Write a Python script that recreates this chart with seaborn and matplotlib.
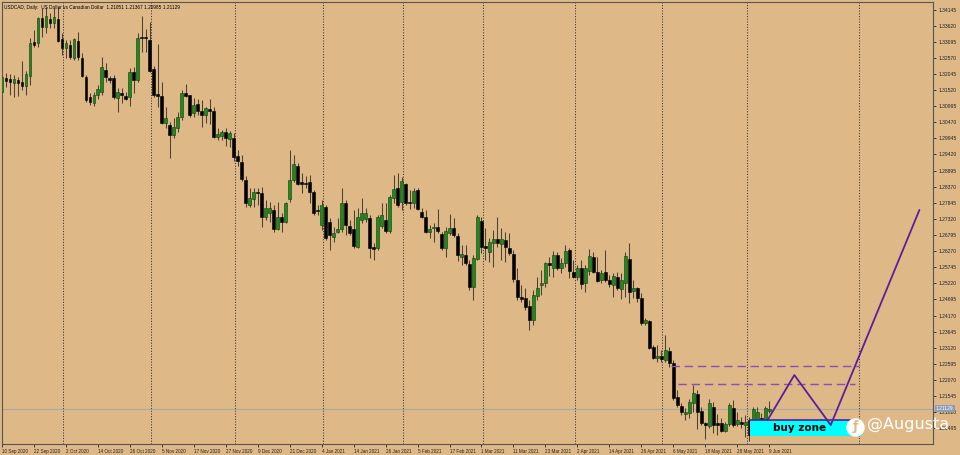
import numpy as np
import pandas as pd
import matplotlib
matplotlib.use("Agg")
import matplotlib.pyplot as plt
import matplotlib.transforms as mtrans
import seaborn as sns

# USDCAD daily candles, 10 Sep 2020 .. 9 Jun 2021 (one row per trading day)
opens = [
    1.3146, 1.3191, 1.3188, 1.3175, 1.3185, 1.3178, 1.3165, 1.3198, 1.3309, 1.3305,
    1.3387, 1.3357, 1.3384, 1.3371, 1.3384, 1.3318, 1.3289, 1.3299, 1.3256, 1.3312,
    1.3256, 1.3194, 1.3129, 1.3110, 1.3136, 1.3146, 1.3217, 1.3191, 1.3191, 1.3126,
    1.3142, 1.3133, 1.3129, 1.3211, 1.3185, 1.3325, 1.3325, 1.3315, 1.3221, 1.3139,
    1.3133, 1.3045, 1.3038, 1.3006, 1.3028, 1.3064, 1.3142, 1.3136, 1.3077, 1.3106,
    1.3084, 1.3071, 1.3090, 1.3084, 1.2999, 1.3002, 1.3015, 1.2993, 1.2996, 1.2937,
    1.2917, 1.2859, 1.2777, 1.2796, 1.2819, 1.2816, 1.2738, 1.2751, 1.2761, 1.2699,
    1.2738, 1.2722, 1.2796, 1.2859, 1.2904, 1.2852, 1.2849, 1.2852, 1.2819, 1.2761,
    1.2712, 1.2771, 1.2722, 1.2673, 1.2689, 1.2699, 1.2783, 1.2709, 1.2699, 1.2640,
    1.2728, 1.2732, 1.2735, 1.2640, 1.2637, 1.2709, 1.2728, 1.2692, 1.2800, 1.2832,
    1.2787, 1.2845, 1.2787, 1.2783, 1.2826, 1.2754, 1.2738, 1.2689, 1.2702, 1.2705,
    1.2683, 1.2637, 1.2686, 1.2702, 1.2676, 1.2608, 1.2614, 1.2585, 1.2510, 1.2601,
    1.2725, 1.2643, 1.2624, 1.2653, 1.2666, 1.2650, 1.2663, 1.2637, 1.2617, 1.2533,
    1.2478, 1.2474, 1.2448, 1.2402, 1.2481, 1.2517, 1.2523, 1.2588, 1.2572, 1.2614,
    1.2572, 1.2588, 1.2630, 1.2559, 1.2543, 1.2572, 1.2523, 1.2562, 1.2608, 1.2559,
    1.2533, 1.2559, 1.2533, 1.2517, 1.2543, 1.2504, 1.2523, 1.2601, 1.2497, 1.2507,
    1.2474, 1.2393, 1.2399, 1.2314, 1.2279, 1.2285, 1.2272, 1.2301, 1.2262, 1.2151,
    1.2122, 1.2096, 1.2099, 1.2132, 1.2161, 1.2106, 1.2067, 1.2057, 1.2119, 1.2067,
    1.2067, 1.2041, 1.2063, 1.2115, 1.2063, 1.2070, 1.2060, 1.2076, 1.2034, 1.2070,
    1.2083, 1.2076, 1.21051,
]
highs = [
    1.3204, 1.3208, 1.3204, 1.3201, 1.3194, 1.3247, 1.3214, 1.3322, 1.3348, 1.3390,
    1.3419, 1.3423, 1.3403, 1.3419, 1.3423, 1.3338, 1.3315, 1.3315, 1.3322, 1.3341,
    1.3273, 1.3201, 1.3142, 1.3146, 1.3168, 1.3260, 1.3240, 1.3198, 1.3201, 1.3159,
    1.3159, 1.3146, 1.3224, 1.3227, 1.3338, 1.3393, 1.3351, 1.3374, 1.3230, 1.3302,
    1.3178, 1.3097, 1.3048, 1.3061, 1.3080, 1.3152, 1.3172, 1.3136, 1.3126, 1.3123,
    1.3119, 1.3097, 1.3123, 1.3097, 1.3028, 1.3022, 1.3028, 1.3019, 1.3012, 1.2957,
    1.2940, 1.2872, 1.2832, 1.2832, 1.2832, 1.2836, 1.2793, 1.2787, 1.2777, 1.2787,
    1.2751, 1.2787, 1.2957, 1.2940, 1.2914, 1.2881, 1.2872, 1.2875, 1.2826, 1.2777,
    1.2793, 1.2777, 1.2735, 1.2705, 1.2735, 1.2832, 1.2793, 1.2728, 1.2761, 1.2767,
    1.2800, 1.2767, 1.2745, 1.2653, 1.2745, 1.2783, 1.2783, 1.2809, 1.2875, 1.2881,
    1.2868, 1.2849, 1.2826, 1.2832, 1.2832, 1.2767, 1.2761, 1.2712, 1.2718, 1.2764,
    1.2689, 1.2705, 1.2748, 1.2735, 1.2686, 1.2647, 1.2647, 1.2598, 1.2614, 1.2745,
    1.2738, 1.2702, 1.2669, 1.2696, 1.2738, 1.2702, 1.2689, 1.2686, 1.2630, 1.2572,
    1.2517, 1.2507, 1.2468, 1.2500, 1.2543, 1.2565, 1.2591, 1.2608, 1.2627, 1.2624,
    1.2604, 1.2647, 1.2637, 1.2598, 1.2582, 1.2598, 1.2582, 1.2634, 1.2624, 1.2608,
    1.2565, 1.2630, 1.2549, 1.2556, 1.2559, 1.2556, 1.2624, 1.2653, 1.2533, 1.2510,
    1.2491, 1.2409, 1.2402, 1.2321, 1.2321, 1.2305, 1.2353, 1.2314, 1.2272, 1.2174,
    1.2132, 1.2115, 1.2145, 1.2190, 1.2174, 1.2119, 1.2070, 1.2145, 1.2135, 1.2096,
    1.2083, 1.2070, 1.2132, 1.2142, 1.2102, 1.2086, 1.2093, 1.2086, 1.2119, 1.2119,
    1.2099, 1.2122, 1.21367,
]
lows = [
    1.3142, 1.3162, 1.3136, 1.3129, 1.3133, 1.3152, 1.3136, 1.3168, 1.3292, 1.3292,
    1.3325, 1.3338, 1.3354, 1.3354, 1.3309, 1.3266, 1.3256, 1.3253, 1.3250, 1.3250,
    1.3194, 1.3113, 1.3103, 1.3100, 1.3123, 1.3136, 1.3178, 1.3175, 1.3123, 1.3080,
    1.3110, 1.3119, 1.3100, 1.3142, 1.3178, 1.3276, 1.3276, 1.3211, 1.3129, 1.3097,
    1.3041, 1.3028, 1.2930, 1.2996, 1.3015, 1.3054, 1.3129, 1.3064, 1.3064, 1.3071,
    1.3032, 1.3045, 1.3041, 1.2996, 1.2989, 1.2989, 1.2970, 1.2966, 1.2921, 1.2904,
    1.2855, 1.2771, 1.2771, 1.2771, 1.2777, 1.2705, 1.2728, 1.2722, 1.2689, 1.2696,
    1.2689, 1.2718, 1.2787, 1.2852, 1.2842, 1.2816, 1.2832, 1.2783, 1.2745, 1.2745,
    1.2696, 1.2663, 1.2630, 1.2656, 1.2686, 1.2689, 1.2679, 1.2679, 1.2637, 1.2637,
    1.2718, 1.2722, 1.2604, 1.2598, 1.2630, 1.2702, 1.2686, 1.2686, 1.2783, 1.2771,
    1.2761, 1.2777, 1.2764, 1.2767, 1.2761, 1.2735, 1.2686, 1.2669, 1.2656, 1.2686,
    1.2630, 1.2608, 1.2679, 1.2673, 1.2595, 1.2582, 1.2582, 1.2500, 1.2468, 1.2598,
    1.2621, 1.2598, 1.2591, 1.2575, 1.2640, 1.2598, 1.2591, 1.2614, 1.2526, 1.2468,
    1.2461, 1.2435, 1.2370, 1.2386, 1.2468, 1.2484, 1.2510, 1.2546, 1.2543, 1.2565,
    1.2556, 1.2575, 1.2539, 1.2539, 1.2533, 1.2504, 1.2494, 1.2549, 1.2556, 1.2526,
    1.2523, 1.2526, 1.2510, 1.2478, 1.2500, 1.2471, 1.2478, 1.2458, 1.2474, 1.2461,
    1.2386, 1.2386, 1.2308, 1.2275, 1.2265, 1.2265, 1.2265, 1.2249, 1.2142, 1.2119,
    1.2093, 1.2076, 1.2083, 1.2102, 1.2047, 1.2060, 1.2015, 1.2050, 1.2034, 1.2028,
    1.2037, 1.2037, 1.2057, 1.2054, 1.2057, 1.2050, 1.2021, 1.2008, 1.2028, 1.2067,
    1.2063, 1.2070, 1.20985,
]
closes = [
    1.3194, 1.3181, 1.3178, 1.3188, 1.3175, 1.3165, 1.3204, 1.3305, 1.3299, 1.3387,
    1.3357, 1.3393, 1.3371, 1.3390, 1.3312, 1.3289, 1.3305, 1.3260, 1.3318, 1.3260,
    1.3198, 1.3119, 1.3113, 1.3136, 1.3155, 1.3227, 1.3194, 1.3185, 1.3129, 1.3146,
    1.3136, 1.3123, 1.3211, 1.3185, 1.3322, 1.3322, 1.3322, 1.3214, 1.3136, 1.3133,
    1.3045, 1.3061, 1.3006, 1.3032, 1.3064, 1.3142, 1.3133, 1.3071, 1.3103, 1.3084,
    1.3071, 1.3093, 1.3084, 1.2999, 1.3009, 1.3015, 1.2996, 1.3012, 1.2934, 1.2921,
    1.2862, 1.2783, 1.2800, 1.2819, 1.2816, 1.2738, 1.2767, 1.2767, 1.2699, 1.2738,
    1.2722, 1.2783, 1.2859, 1.2911, 1.2845, 1.2845, 1.2845, 1.2819, 1.2751, 1.2758,
    1.2777, 1.2669, 1.2679, 1.2686, 1.2699, 1.2783, 1.2712, 1.2686, 1.2643, 1.2738,
    1.2751, 1.2751, 1.2637, 1.2634, 1.2738, 1.2745, 1.2692, 1.2803, 1.2829, 1.2777,
    1.2855, 1.2783, 1.2783, 1.2822, 1.2764, 1.2738, 1.2689, 1.2699, 1.2705, 1.2692,
    1.2637, 1.2692, 1.2702, 1.2679, 1.2614, 1.2617, 1.2588, 1.2510, 1.2604, 1.2738,
    1.2640, 1.2637, 1.2656, 1.2666, 1.2653, 1.2666, 1.2640, 1.2621, 1.2536, 1.2478,
    1.2471, 1.2445, 1.2402, 1.2484, 1.2507, 1.2523, 1.2588, 1.2582, 1.2614, 1.2572,
    1.2588, 1.2627, 1.2562, 1.2543, 1.2572, 1.2520, 1.2572, 1.2611, 1.2559, 1.2530,
    1.2556, 1.2533, 1.2520, 1.2546, 1.2507, 1.2533, 1.2611, 1.2494, 1.2507, 1.2474,
    1.2393, 1.2402, 1.2311, 1.2279, 1.2285, 1.2275, 1.2305, 1.2262, 1.2148, 1.2125,
    1.2102, 1.2102, 1.2135, 1.2164, 1.2102, 1.2067, 1.2060, 1.2132, 1.2060, 1.2060,
    1.2041, 1.2063, 1.2125, 1.2060, 1.2076, 1.2063, 1.2070, 1.2028, 1.2112, 1.2102,
    1.2070, 1.2115, 1.21129,
]

# date labels, one every 8 bars
date_labels = [
    "10 Sep 2020", "22 Sep 2020", "2 Oct 2020", "14 Oct 2020", "26 Oct 2020",
    "5 Nov 2020", "17 Nov 2020", "27 Nov 2020", "9 Dec 2020", "21 Dec 2020",
    "4 Jan 2021", "14 Jan 2021", "26 Jan 2021", "5 Feb 2021", "17 Feb 2021",
    "1 Mar 2021", "11 Mar 2021", "23 Mar 2021", "2 Apr 2021", "14 Apr 2021",
    "26 Apr 2021", "6 May 2021", "18 May 2021", "28 May 2021", "9 Jun 2021",
]
label_every = 8

# month separators (bar index of first trading day of each month)
month_seps = [15.3, 37.3, 58.3, 80.3, 100.3, 120.3, 143.3, 165.3, 186.4, 214.5]

# price scale labels
price_ticks = [1.34145 - 0.00525 * k for k in range(27)]

# drawings
last_price = 1.21129
dash_levels = [1.2253, 1.2194]
dash_start = [167.4, 169.2]
dash_end = [214.5, 213.5]
zone_low, zone_high = 1.2024, 1.2076
zone_start, zone_end = 187.3, 215.3
path_bars = [191.6, 198.3, 207.4, 229.6]
path_prices = [1.2076, 1.2223, 1.2060, 1.2761]

bg = "#DEB887"
purple = "#5a1f9a"
dash_purple = "#8a4fb0"

sns.set_theme(style="white", rc={"axes.facecolor": bg, "figure.facecolor": bg})
plt.rcParams["font.family"] = ["Liberation Sans", "DejaVu Sans"]

df = pd.DataFrame({"open": opens, "high": highs, "low": lows, "close": closes})
df["bar"] = np.arange(len(df))
df["up"] = df["close"] > df["open"]

fig = plt.figure(figsize=(9.6, 4.55), dpi=100)
ax = fig.add_axes([2 / 960, 11 / 455, 931 / 960, 442 / 455])

# month separators
for s in month_seps:
    ax.axvline(s, color="#3c3c3c", lw=0.7, ls=(0, (1.2, 1.6)), zorder=1)

# bid line
ax.axhline(last_price, color="#a8a8a8", lw=0.8, zorder=1)

# wicks
ax.vlines(df["bar"], df["low"], df["high"], color="#4a4232", lw=0.75, zorder=2)

# bodies
body_lo = np.minimum(df["open"], df["close"])
body_h = np.maximum((df["close"] - df["open"]).abs(), 0.00022)
ax.bar(df["bar"], body_h, bottom=body_lo, width=0.7,
       color=np.where(df["up"], "#1e8a1e", "#000000"),
       edgecolor=np.where(df["up"], "#0d3d0d", "#000000"), linewidth=0.4, zorder=3)

# horizontal dashed levels
for lvl, a, b in zip(dash_levels, dash_start, dash_end):
    ax.plot([a, b], [lvl, lvl], color=dash_purple, lw=1.0, ls=(0, (6, 3.5)), zorder=4)

# buy zone
ax.fill_between([zone_start, zone_end], zone_low, zone_high, color="#00FFFF", lw=0, zorder=4)
ax.plot([zone_start, zone_end - 3], [zone_high, zone_high], color=purple, lw=1.2, zorder=5)
ax.text((zone_start + zone_end) / 2 - 1.8, (zone_low + zone_high) / 2, "buy zone",
        fontsize=7.5, fontweight="bold", color="black", ha="center", va="center",
        family=["DejaVu Sans"], zorder=6)

# projected path
sns.lineplot(x=path_bars, y=path_prices, ax=ax, color=purple, lw=1.3, sort=False,
             zorder=6)

# watermark
ax.scatter([213.6], [1.2055], s=150, color="white", zorder=7)
ax.text(213.7, 1.2054, "ƒ", fontsize=9, fontweight="bold", color=bg, ha="center",
        va="center", family=["DejaVu Sans"], zorder=8)
ax.text(216.6, 1.2063, "@Augusta", fontsize=11.5, color="white", ha="left",
        va="center", family=["DejaVu Sans"], zorder=8)

# title
ax.text(0.002, 0.994, "USDCAD, Daily:  US Dollar vs Canadian Dollar  1.21051 1.21367 1.20985 1.21129",
        transform=ax.transAxes, fontsize=3.4, color="black", ha="left", va="top", zorder=8)

ax.set_xlim(0.25, 233)
ax.set_ylim(1.19981, 1.3439)

# axes
ax.yaxis.tick_right()
ax.set_yticks(price_ticks)
ax.set_yticklabels([f"{v:.5f}" for v in price_ticks])
ax.set_xticks(np.arange(0, len(df), label_every))
ax.set_xticklabels(date_labels)
for lbl in ax.get_xticklabels():
    lbl.set_ha("left")
ax.tick_params(axis="y", direction="out", length=2.5, width=0.6, pad=1.2,
               labelsize=3.6, colors="#222222", right=True, left=False)
ax.tick_params(axis="x", direction="out", length=2.5, width=0.6, pad=0.8,
               labelsize=3.3, colors="#222222", bottom=True)
for sp in ax.spines.values():
    sp.set_color("#555555")
    sp.set_linewidth(0.8)
ax.set_xlabel("")
ax.set_ylabel("")

# current price box on the scale
tr = mtrans.blended_transform_factory(ax.transAxes, ax.transData)
ax.text(1.003, last_price, f"{last_price:.5f}", transform=tr, fontsize=3.6,
        color="white", ha="left", va="center", zorder=9, clip_on=False,
        bbox=dict(facecolor="#8e9db3", edgecolor="none", pad=0.8))

fig.savefig("out.png", dpi=100)
